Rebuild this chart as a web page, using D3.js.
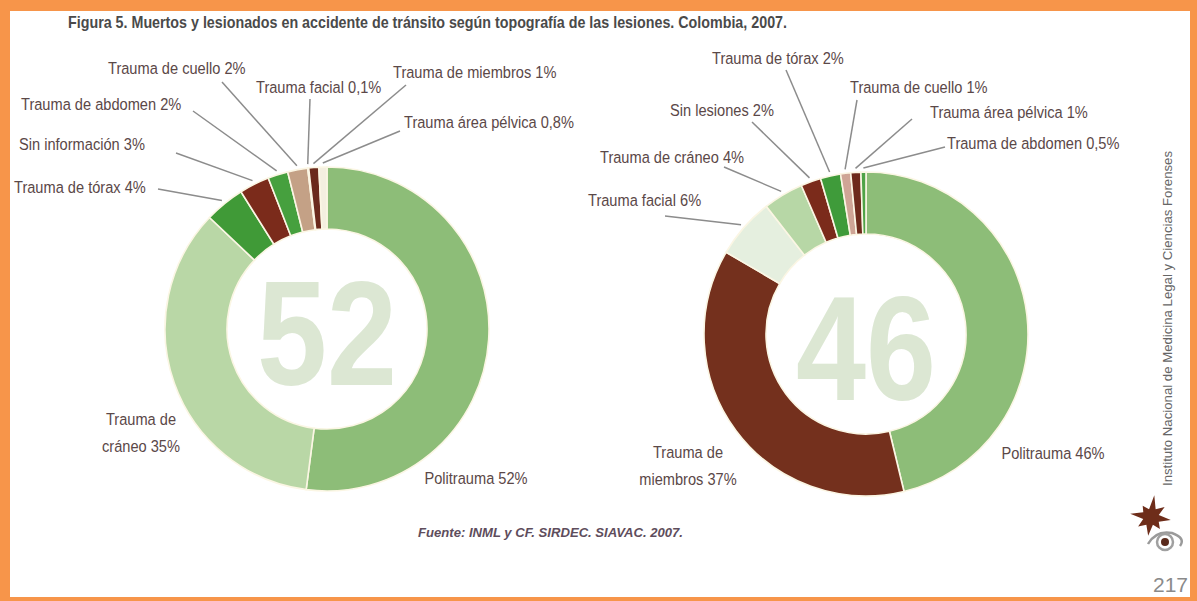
<!DOCTYPE html>
<html lang="es">
<head>
<meta charset="utf-8">
<script src="https://cdn.jsdelivr.net/npm/d3@7"></script>
<style>
  html, body { margin: 0; padding: 0; background: #ffffff; }
  svg { display: block; }
</style>
</head>
<body>
<svg id="fig" width="1197" height="601"></svg>
<script>
// ---- Data: deaths (left) and injured (right) by injury location, Colombia 2007 ----
const deathCategories = ["Politrauma", "Trauma de cráneo", "Trauma de tórax", "Sin información",
  "Trauma de abdomen", "Trauma de cuello", "Trauma facial", "Trauma de miembros", "Trauma área pélvica"];
const deathValues = [52, 35, 4, 3, 2, 2, 0.1, 1, 0.8];
const deathCenterLabel = "52";

const injuredCategories = ["Politrauma", "Trauma de miembros", "Trauma facial", "Trauma de cráneo",
  "Sin lesiones", "Trauma de tórax", "Trauma de cuello", "Trauma área pélvica", "Trauma de abdomen"];
const injuredValues = [46, 37, 6, 4, 2, 2, 1, 1, 0.5];
const injuredCenterLabel = "46";

const titleText = "Figura 5. Muertos y lesionados en accidente de tránsito según topografía de las lesiones. Colombia, 2007.";
const sourceText = "Fuente: INML y CF. SIRDEC. SIAVAC. 2007.";
const sideText = "Instituto Nacional de Medicina Legal y Ciencias Forenses";
const pageNumber = "217";

// ---- Styling ----
const deathColors = ["#8dbd78", "#b9d7a6", "#409a37", "#7b2b1b", "#46a03e", "#c4a186", "#eef3ea", "#6b2a1c", "#f4efe0"];
const injuredColors = ["#8dbd78", "#74301d", "#e5efdf", "#b7d7a6", "#7b2b1b", "#3f9b3a", "#cfa596", "#6e2a1c", "#4fa347"];

// label layout: [x, baseline, anchor, split-into-two-lines, leader start x, leader start y]
const deathLayout = [
  [476, 484, "middle", false, null, null],
  [141, 425, "middle", true, null, null],
  [14, 193, "start", false, 158, 189],
  [19, 150, "start", false, 176, 153],
  [21, 110, "start", false, 193, 111],
  [108, 74, "start", false, 222, 82],
  [256, 93, "start", false, 310, 99],
  [393, 78, "start", false, 406, 85],
  [404, 128, "start", false, 400, 131]
];
const injuredLayout = [
  [1053, 459, "middle", false, null, null],
  [688, 458, "middle", true, null, null],
  [588, 206, "start", false, 665, 216],
  [600, 163, "start", false, 724, 167],
  [670, 116, "start", false, 752, 122],
  [712, 64, "start", false, 786, 70],
  [850, 93, "start", false, 857, 100],
  [930, 118, "start", false, 912, 119],
  [947, 149, "start", false, 945, 147]
];

const svg = d3.select("#fig");
const W = 1197, H = 601;

// orange page frame
svg.append("rect").attr("x", 0).attr("y", 0).attr("width", W).attr("height", H).attr("fill", "#f7954a");
svg.append("rect").attr("x", 10).attr("y", 11).attr("width", 1180).attr("height", 586).attr("fill", "#ffffff");

const labelFont = "'Liberation Sans', Arial, sans-serif";
const labelColor = "#5b4848";
const SX = 0.86;

// title
svg.append("text")
  .attr("x", 68).attr("y", 28)
  .attr("textLength", 719).attr("lengthAdjust", "spacingAndGlyphs")
  .attr("font-family", labelFont).attr("font-weight", "bold").attr("font-size", 17)
  .attr("fill", "#4a4a4a")
  .text(titleText);

function fmt(v) { return String(v).replace(".", ",") + "%"; }

function drawDonut(cx, cy, categories, values, colors, layout, centerLabel, centerBaseline) {
  const R = 162, r = 100;
  const data = categories.map((c, i) => ({ c, v: values[i], i }));
  const pie = d3.pie().sort(null).value(d => d.v);
  const arc = d3.arc().innerRadius(r).outerRadius(R);
  const arcs = pie(data);
  const g = svg.append("g").attr("transform", `translate(${cx},${cy})`);

  g.selectAll("path.slice").data(arcs).join("path")
    .attr("class", "slice")
    .attr("d", arc)
    .attr("fill", d => colors[d.data.i])
    .attr("stroke", "#fbf6e4")
    .attr("stroke-width", 1.6);

  // big central figure (baseline given relative to the donut centre)
  g.append("text")
    .attr("x", 0).attr("y", centerBaseline)
    .attr("text-anchor", "middle")
    .attr("textLength", 140).attr("lengthAdjust", "spacingAndGlyphs")
    .attr("font-family", labelFont).attr("font-weight", "bold").attr("font-size", 148)
    .attr("fill", "#dce7d3")
    .text(centerLabel);

  // leader lines
  arcs.forEach(d => {
    const L = layout[d.data.i];
    if (L[4] === null) return;
    const a = (d.startAngle + d.endAngle) / 2;
    const rr = R + 4;
    svg.append("line")
      .attr("x1", L[4]).attr("y1", L[5])
      .attr("x2", cx + Math.sin(a) * rr).attr("y2", cy - Math.cos(a) * rr)
      .attr("stroke", "#8c8c8c").attr("stroke-width", 1.5);
  });

  // labels
  arcs.forEach(d => {
    const L = layout[d.data.i];
    const full = d.data.c + " " + fmt(d.data.v);
    const lines = L[3] ? ["Trauma de", full.replace(/^Trauma de /, "")] : [full];
    const t = svg.append("g").attr("transform", `translate(${L[0]},${L[1]}) scale(${SX},1)`)
      .append("text")
      .attr("text-anchor", L[2])
      .attr("font-family", labelFont).attr("font-size", 17)
      .attr("fill", labelColor);
    lines.forEach((ln, k) => {
      t.append("tspan").attr("x", 0).attr("dy", k === 0 ? 0 : 27).text(ln);
    });
  });
}

drawDonut(327, 329, deathCategories, deathValues, deathColors, deathLayout, deathCenterLabel, 56);
drawDonut(866, 334, injuredCategories, injuredValues, injuredColors, injuredLayout, injuredCenterLabel, 66);

// source note
svg.append("text")
  .attr("x", 418).attr("y", 537)
  .attr("textLength", 265).attr("lengthAdjust", "spacingAndGlyphs")
  .attr("font-family", labelFont).attr("font-style", "italic").attr("font-weight", "bold").attr("font-size", 12)
  .attr("fill", "#5e4d5c")
  .text(sourceText);

// vertical institution name
svg.append("text")
  .attr("transform", "translate(1172,486) rotate(-90)")
  .attr("textLength", 335).attr("lengthAdjust", "spacingAndGlyphs")
  .attr("font-family", labelFont).attr("font-size", 12)
  .attr("fill", "#666666")
  .text(sideText);

// emblem: irregular burst + eye
const burstRadii = [22, 9, 17, 8, 20, 9, 15, 8, 19, 9, 16, 8, 21, 9, 14, 8];
const burstPts = burstRadii.map((rad, k) => {
  const ang = (k / burstRadii.length) * Math.PI * 2 + 0.15;
  return [1151 + Math.sin(ang) * rad, 517 - Math.cos(ang) * rad];
});
svg.append("path")
  .attr("d", d3.line()(burstPts) + "Z")
  .attr("fill", "#6e2d1a");
svg.append("path")
  .attr("d", "M1148,544 Q1156,530 1172,533 Q1186,538 1180,546")
  .attr("fill", "none").attr("stroke", "#9a9a9a").attr("stroke-width", 2.5);
svg.append("circle").attr("cx", 1165).attr("cy", 542).attr("r", 8)
  .attr("fill", "#ffffff").attr("stroke", "#a0a0a0").attr("stroke-width", 2.5);
svg.append("circle").attr("cx", 1165).attr("cy", 542).attr("r", 4).attr("fill", "#5a2a1c");

// page number
svg.append("text")
  .attr("x", 1188).attr("y", 592)
  .attr("text-anchor", "end")
  .attr("font-family", labelFont).attr("font-size", 21)
  .attr("fill", "#8a8a8a")
  .text(pageNumber);
</script>
</body>
</html>
